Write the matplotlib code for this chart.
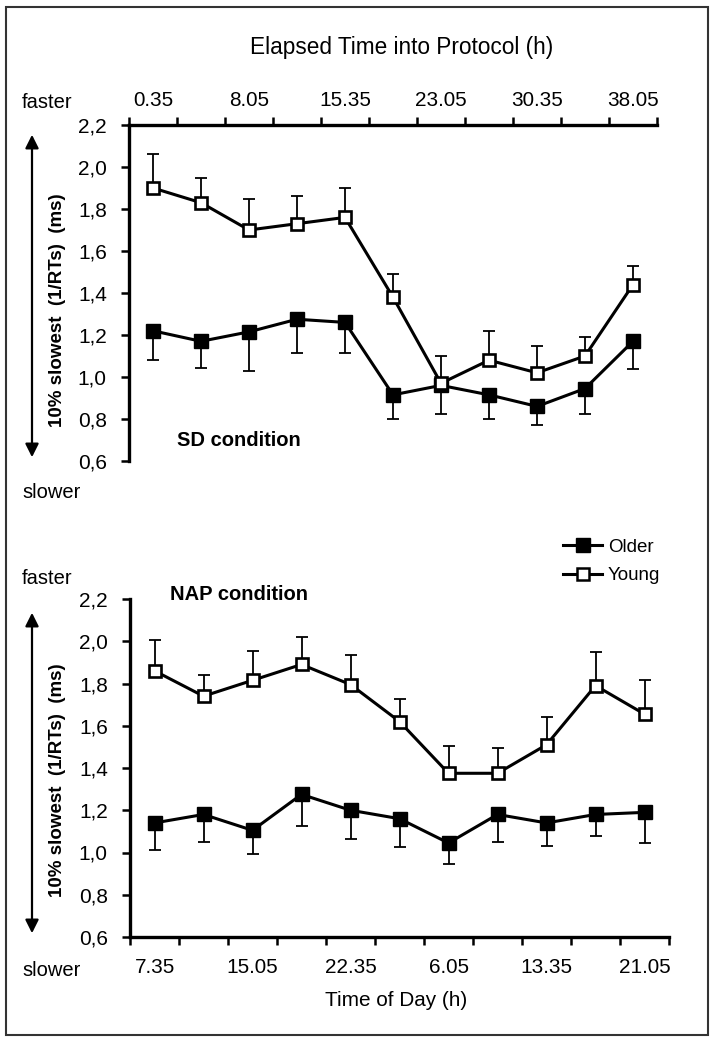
import numpy as np
import matplotlib
matplotlib.use("Agg")
import matplotlib.pyplot as plt
from matplotlib import font_manager
from matplotlib.lines import Line2D
from matplotlib.patches import Rectangle, FancyArrowPatch

# fonts: a narrow face if there is one, otherwise regular at a smaller size
installed = {f.name for f in font_manager.fontManager.ttflist}
HAS_NARROW = 'Liberation Sans Narrow' in installed
NARROW = 'Liberation Sans Narrow' if HAS_NARROW else 'Liberation Sans'
REG = 'Liberation Sans'
NS = 1.0 if HAS_NARROW else 0.88   # size factor for the narrow texts

# ---- data ----
sd_time_labels = ['0.35', '8.05', '15.35', '23.05', '30.35', '38.05']
nap_time_labels = ['7.35', '15.05', '22.35', '6.05', '13.35', '21.05']
y_tick_values = [0.6, 0.8, 1.0, 1.2, 1.4, 1.6, 1.8, 2.0, 2.2]
y_tick_labels = ['0,6', '0,8', '1,0', '1,2', '1,4', '1,6', '1,8', '2,0', '2,2']

sd_young = [1.90, 1.83, 1.70, 1.73, 1.76, 1.38, 0.97, 1.08, 1.02, 1.10, 1.44]
sd_young_err = [0.16, 0.12, 0.15, 0.13, 0.14, 0.11, 0.13, 0.14, 0.13, 0.09, 0.09]
sd_older = [1.22, 1.17, 1.215, 1.275, 1.26, 0.915, 0.96, 0.915, 0.86, 0.945, 1.17]
sd_older_err = [0.14, 0.125, 0.185, 0.16, 0.145, 0.115, 0.135, 0.115, 0.09, 0.12, 0.13]

nap_young = [1.86, 1.74, 1.815, 1.89, 1.795, 1.62, 1.375, 1.375, 1.51, 1.79, 1.655]
nap_young_err = [0.145, 0.10, 0.14, 0.13, 0.14, 0.105, 0.13, 0.12, 0.13, 0.16, 0.16]
nap_older = [1.14, 1.18, 1.105, 1.275, 1.20, 1.16, 1.045, 1.18, 1.14, 1.18, 1.19]
nap_older_err = [0.13, 0.13, 0.11, 0.15, 0.135, 0.135, 0.10, 0.13, 0.11, 0.10, 0.145]

W, H = 716, 1044
fig = plt.figure(figsize=(W / 100, H / 100), dpi=100)


def fx(px):
    return px / W


def fy(py):
    return 1 - py / H


def draw_panel(ax, young, young_err, older, older_err, time_labels, top):
    n = len(young)
    x = np.arange(n)
    zeros = [0] * n
    # one-sided error bars: young up, older down
    ax.errorbar(x, young, yerr=[zeros, young_err], fmt='none', ecolor='black',
                elinewidth=1.3, capsize=4.5, capthick=1.3, zorder=2, clip_on=False)
    ax.errorbar(x, older, yerr=[older_err, zeros], fmt='none', ecolor='black',
                elinewidth=1.3, capsize=4.5, capthick=1.3, zorder=2, clip_on=False)
    ax.plot(x, older, color='black', lw=2.2, marker='s', markersize=10,
            mfc='black', mec='black', zorder=3, clip_on=False)
    ax.plot(x, young, color='black', lw=2.2, marker='s', markersize=9,
            mfc='white', mec='black', mew=1.9, zorder=4, clip_on=False)

    ax.set_xlim(-0.5, n - 0.5)
    ax.set_ylim(0.6, 2.2)
    ax.set_yticks(y_tick_values)
    ax.set_yticklabels(y_tick_labels, fontsize=15, family=REG)
    ax.tick_params(axis='y', direction='out', length=6, width=1.8, pad=10)

    ax.set_xticks(np.arange(-0.5, n, 1.0))
    ax.set_xticklabels([])
    ax.set_xticks(x[::2], minor=True)
    ax.set_xticklabels(time_labels, minor=True, fontsize=17 * NS, family=NARROW)
    ax.tick_params(axis='x', which='major', direction='out', length=6, width=1.8)
    ax.tick_params(axis='x', which='minor', length=0, pad=15 if not top else 11)

    for s in ax.spines.values():
        s.set_linewidth(2.4)
    ax.spines['right'].set_visible(False)
    if top:
        ax.spines['bottom'].set_visible(False)
        ax.xaxis.set_ticks_position('top')
    else:
        ax.spines['top'].set_visible(False)
        ax.xaxis.set_ticks_position('bottom')


ax1 = fig.add_axes([fx(129), fy(461), fx(657 - 129), (461 - 125) / H])
draw_panel(ax1, sd_young, sd_young_err, sd_older, sd_older_err, sd_time_labels, top=True)

ax2 = fig.add_axes([fx(130), fy(937), fx(669 - 130), (937 - 599) / H])
draw_panel(ax2, nap_young, nap_young_err, nap_older, nap_older_err, nap_time_labels, top=False)

# axis titles
fig.text(fx(402), fy(48), 'Elapsed Time into Protocol (h)', ha='center', va='center',
         fontsize=18.5 * NS, family=NARROW)
fig.text(fx(396), fy(1000), 'Time of Day (h)', ha='center', va='center',
         fontsize=17 * NS, family=NARROW)

# condition labels
fig.text(fx(177), fy(441), 'SD condition', ha='left', va='center',
         fontsize=14.5, fontweight='bold', family=REG)
fig.text(fx(170), fy(595), 'NAP condition', ha='left', va='center',
         fontsize=14.5, fontweight='bold', family=REG)

# faster / slower markers with the vertical double arrows
for y_fast, y_slow, a_top, a_bot, y_lab in [(102, 493, 132, 460, 310),
                                            (578, 970, 610, 936, 780)]:
    fig.text(fx(22), fy(y_fast), 'faster', ha='left', va='center',
             fontsize=16.5 * NS, family=NARROW)
    fig.text(fx(22), fy(y_slow), 'slower', ha='left', va='center',
             fontsize=16.5 * NS, family=NARROW)
    arrow = FancyArrowPatch((fx(32), fy(a_bot)), (fx(32), fy(a_top)),
                            transform=fig.transFigure, arrowstyle='<|-|>',
                            mutation_scale=20, lw=1.6, color='black')
    fig.patches.append(arrow)
    fig.text(fx(58), fy(y_lab), '10% slowest  (1/RTs)  (ms)', rotation=90,
             ha='center', va='center', fontsize=13.5, fontweight='bold', family=REG)

# legend
handles = [Line2D([], [], color='black', lw=2.2, marker='s', markersize=10,
                  mfc='black', mec='black'),
           Line2D([], [], color='black', lw=2.2, marker='s', markersize=9,
                  mfc='white', mec='black', mew=1.8)]
fig.legend(handles, ['Older', 'Young'], loc='center left',
           bbox_to_anchor=(fx(563), fy(561.5)), frameon=False, borderpad=0,
           borderaxespad=0, handlelength=2.1, handletextpad=0.3,
           labelspacing=0.6, prop={'family': REG, 'size': 13.5})

# outer frame around the whole figure
fig.patches.append(Rectangle((fx(6), fy(1035)), fx(708 - 6), (1035 - 7) / H,
                             transform=fig.transFigure, fill=False,
                             edgecolor='#333333', lw=1.5))

fig.savefig('out.png', dpi=100)
